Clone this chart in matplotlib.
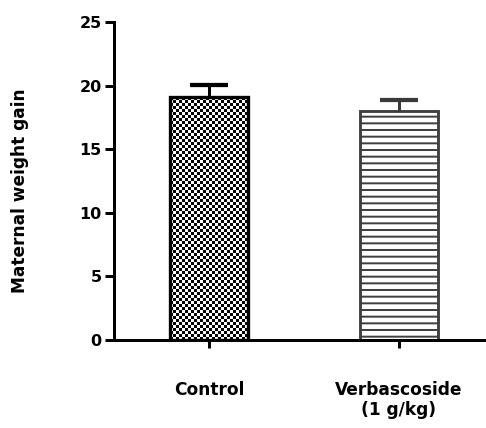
import numpy as np
import matplotlib
matplotlib.use('Agg')
import matplotlib.pyplot as plt

groups = ['Control', 'Verbascoside\n(1 g/kg)']
means = [19.1, 18.0]
sems = [0.95, 0.9]
yticks = [0, 5, 10, 15, 20, 25]

dpi = 80
plt.rcParams['font.family'] = 'DejaVu Sans'
plt.rcParams['font.weight'] = 'bold'
plt.rcParams['hatch.linewidth'] = 1.8

fig = plt.figure(figsize=(486 / dpi, 428 / dpi), dpi=dpi)
ax = fig.add_axes([114 / 486, 1 - 340 / 428, 370 / 486, 318 / 428])

xpos = np.arange(len(groups))
width = 0.41

# control bar: checkerboard fill, drawn as an image clipped to the bar
b0 = ax.bar(xpos[0], means[0], width, facecolor='none', edgecolor='black',
            linewidth=3, zorder=2)
nx = 26
ny = int(round(means[0] / 0.236))
checker = (np.indices((ny, nx)).sum(axis=0) % 2).astype(float)
img = ax.imshow(checker, cmap='gray', interpolation='nearest', aspect='auto',
                extent=(xpos[0] - width / 2, xpos[0] + width / 2, 0, means[0]),
                zorder=1)
img.set_clip_path(b0[0])

# verbascoside bar: horizontal lines
b1 = ax.bar(xpos[1], means[1], width, facecolor='white', edgecolor='#404040',
            linewidth=2.6, hatch='--', zorder=2)

# upper error bars only
for i, col in enumerate(['black', '#3a3a3a']):
    eb = ax.errorbar(xpos[i], means[i], yerr=[[0], [sems[i]]], fmt='none',
                     ecolor=col, elinewidth=2.7, capsize=17.5, capthick=3.8,
                     zorder=3)
    for cap in eb[1]:
        if np.allclose(cap.get_ydata(), means[i]):
            cap.set_visible(False)

ax.set_xlim(-0.5, 1.447)
ax.set_ylim(0, 25)
ax.set_yticks(yticks)
ax.set_xticks(xpos)
ax.set_xticklabels(groups, fontsize=15.3, fontweight='bold', linespacing=1.15)
ax.tick_params(axis='y', labelsize=14.4, width=2.7, length=8, pad=3)
ax.tick_params(axis='x', width=2.7, length=7, pad=30)

for s in ['top', 'right']:
    ax.spines[s].set_visible(False)
for s in ['left', 'bottom']:
    ax.spines[s].set_linewidth(2.7)

fig.text(20.5 / 486, 1 - 191 / 428, 'Maternal weight gain', rotation=90,
         ha='center', va='center', fontsize=15.3, fontweight='bold')

fig.savefig('out.png', dpi=dpi)
